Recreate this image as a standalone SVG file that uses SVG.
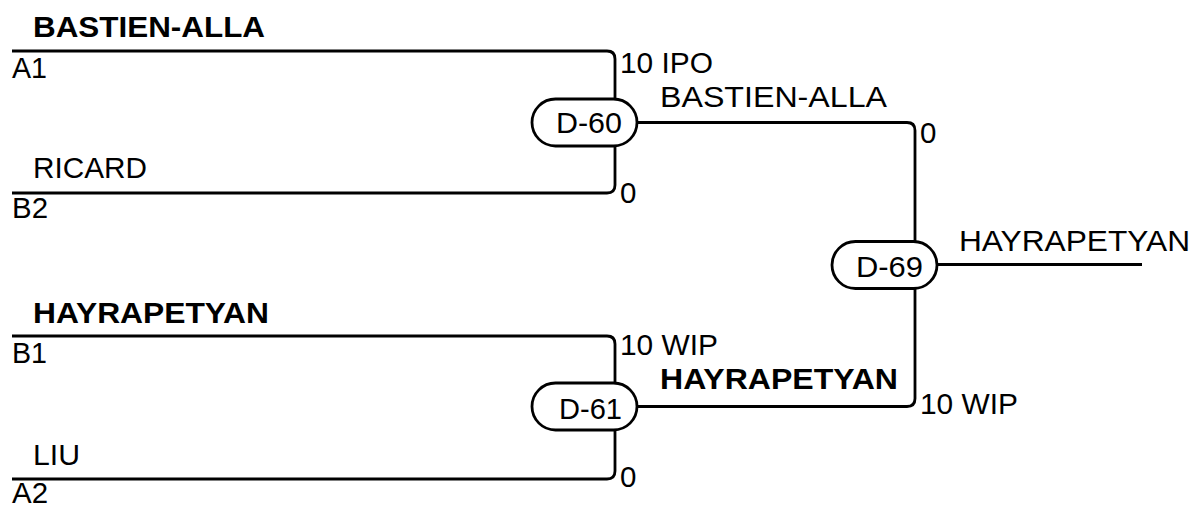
<svg xmlns="http://www.w3.org/2000/svg" width="1197" height="508" viewBox="0 0 1197 508">
<style>
text{font-family:"Liberation Sans",Arial,sans-serif;font-size:29.5px;fill:#000}
.b{font-weight:bold}
.c{fill:none;stroke:#000;stroke-width:2.8}
.n{fill:#fff;stroke:#000;stroke-width:2.8}
</style>
<rect width="1197" height="508" fill="#fff"/>
<g id="connectors">
<path class="c" d="M12,51 H607 Q615,51 615,59 V122.5"/>
<path class="c" d="M12,193 H607 Q615,193 615,185 V122.5"/>
<path class="c" d="M12,336 H607 Q615,336 615,344 V406.5"/>
<path class="c" d="M12,479 H607 Q615,479 615,471 V406.5"/>
<path class="c" d="M637,122.5 H907 Q915,122.5 915,130.5 V265"/>
<path class="c" d="M637,406.5 H907 Q915,406.5 915,398.5 V265"/>
<path class="c" d="M937,264.5 H1142"/>
</g>
<g id="labels">
<text class="b" x="33" y="37" textLength="232" lengthAdjust="spacingAndGlyphs">BASTIEN-ALLA</text>
<text x="12" y="78" textLength="35" lengthAdjust="spacingAndGlyphs">A1</text>
<text x="33" y="178" textLength="114" lengthAdjust="spacingAndGlyphs">RICARD</text>
<text x="12" y="218" textLength="36" lengthAdjust="spacingAndGlyphs">B2</text>
<text class="b" x="33" y="323" textLength="236" lengthAdjust="spacingAndGlyphs">HAYRAPETYAN</text>
<text x="12" y="363" textLength="35" lengthAdjust="spacingAndGlyphs">B1</text>
<text x="33" y="465" textLength="47" lengthAdjust="spacingAndGlyphs">LIU</text>
<text x="12" y="503" textLength="36" lengthAdjust="spacingAndGlyphs">A2</text>
<text x="620" y="73" textLength="93" lengthAdjust="spacingAndGlyphs">10 IPO</text>
<text x="620" y="203">0</text>
<text x="660" y="107" textLength="227" lengthAdjust="spacingAndGlyphs">BASTIEN-ALLA</text>
<text x="920" y="143">0</text>
<text x="620" y="355" textLength="98" lengthAdjust="spacingAndGlyphs">10 WIP</text>
<text x="620" y="487">0</text>
<text class="b" x="660" y="389" textLength="238" lengthAdjust="spacingAndGlyphs">HAYRAPETYAN</text>
<text x="920" y="414" textLength="98" lengthAdjust="spacingAndGlyphs">10 WIP</text>
<text x="959" y="251" textLength="231" lengthAdjust="spacingAndGlyphs">HAYRAPETYAN</text>
</g>
<g id="D-60">
<rect class="n" x="532" y="99" width="105" height="47" rx="23.5"/>
<text x="556" y="133" textLength="66" lengthAdjust="spacingAndGlyphs">D-60</text>
</g>
<g id="D-61">
<rect class="n" x="532" y="383" width="105" height="47" rx="23.5"/>
<text x="559" y="419" textLength="63" lengthAdjust="spacingAndGlyphs">D-61</text>
</g>
<g id="D-69">
<rect class="n" x="832" y="241.5" width="105" height="47" rx="23.5"/>
<text x="856" y="277" textLength="67" lengthAdjust="spacingAndGlyphs">D-69</text>
</g>
</svg>
